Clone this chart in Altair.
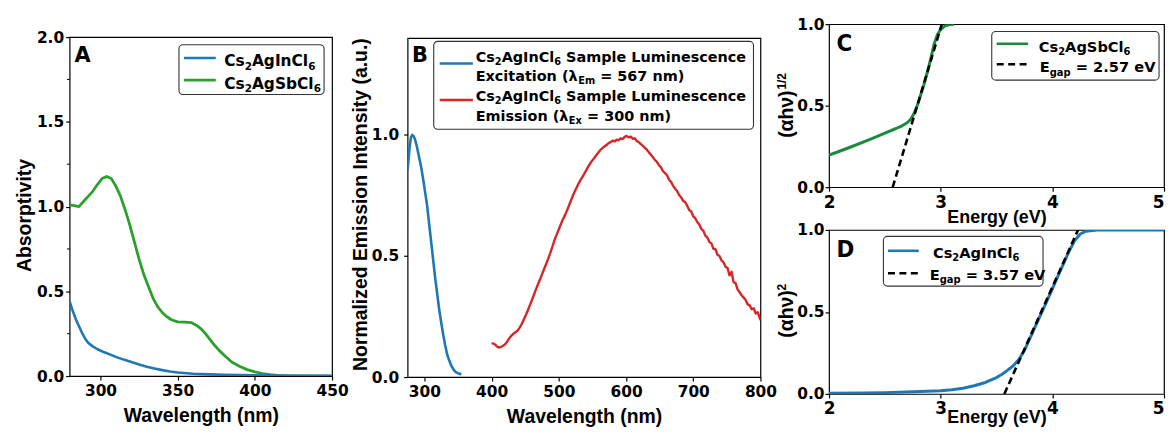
import altair as alt
import pandas as pd

# ---------------- data ----------------
# Panel A: absorptivity vs wavelength (nm)
a_in = [(280, 0.44), (282, 0.385), (284, 0.335), (286, 0.295), (288, 0.255), (290, 0.222),
        (292, 0.196), (295, 0.175), (298, 0.158), (302, 0.142), (306, 0.128), (310, 0.113),
        (315, 0.097), (320, 0.083), (325, 0.068), (330, 0.055), (335, 0.044), (340, 0.035),
        (345, 0.027), (350, 0.021), (360, 0.014), (370, 0.010), (380, 0.007), (400, 0.004),
        (425, 0.002), (450, 0.001)]
a_sb = [(280, 1.01), (283, 1.005), (286, 1.0), (289, 1.03), (292, 1.06), (295, 1.09),
        (298, 1.13), (301, 1.165), (304, 1.178), (307, 1.165), (310, 1.12), (313, 1.06),
        (316, 0.98), (319, 0.89), (322, 0.79), (325, 0.69), (328, 0.60), (331, 0.53),
        (334, 0.46), (337, 0.41), (340, 0.375), (343, 0.35), (346, 0.332), (350, 0.32),
        (355, 0.318), (359, 0.315), (362, 0.30), (365, 0.28), (368, 0.25), (371, 0.215),
        (374, 0.18), (377, 0.15), (381, 0.115), (385, 0.083), (390, 0.058), (395, 0.038),
        (400, 0.025), (405, 0.015), (410, 0.008), (415, 0.004), (420, 0.002), (430, 0.001),
        (450, 0.0)]
# Panel B: normalized luminescence
b_exc = [(275, 0.856), (278, 0.95), (280, 0.99), (282, 1.0), (284, 0.995), (286, 0.982),
         (289, 0.95), (292, 0.91), (295, 0.87), (298, 0.82), (301, 0.765), (304, 0.71),
         (307, 0.635), (310, 0.56), (313, 0.485), (316, 0.41), (319, 0.345), (322, 0.28),
         (325, 0.225), (328, 0.175), (331, 0.13), (334, 0.092), (337, 0.068), (340, 0.047),
         (344, 0.028), (348, 0.018), (352, 0.013), (355, 0.012)]
b_em = [(400, 0.140), (403, 0.138), (406, 0.132), (409, 0.124), (412, 0.122), (415, 0.126),
        (418, 0.131), (421, 0.138), (424, 0.150), (427, 0.163), (430, 0.172), (433, 0.180),
        (436, 0.186), (439, 0.193), (442, 0.205), (445, 0.220), (448, 0.238), (451, 0.256),
        (454, 0.276), (457, 0.297), (460, 0.318), (463, 0.340), (466, 0.362), (469, 0.383),
        (472, 0.403), (475, 0.424), (478, 0.445), (481, 0.466), (484, 0.487), (487, 0.510),
        (490, 0.535), (493, 0.560), (496, 0.583), (499, 0.603), (502, 0.624), (505, 0.644),
        (508, 0.662), (511, 0.680), (514, 0.700), (517, 0.722), (520, 0.743), (523, 0.762),
        (526, 0.780), (529, 0.797), (532, 0.812), (535, 0.826), (538, 0.840), (541, 0.855),
        (544, 0.870), (547, 0.884), (550, 0.895), (553, 0.906), (556, 0.917), (559, 0.928),
        (562, 0.938), (565, 0.946), (568, 0.953), (571, 0.958), (574, 0.966), (577, 0.970),
        (580, 0.976), (583, 0.973), (586, 0.980), (589, 0.978), (592, 0.986), (595, 0.983),
        (598, 0.992), (601, 0.996), (604, 0.990), (607, 0.993), (610, 0.984), (613, 0.986),
        (616, 0.975), (619, 0.970), (622, 0.962), (625, 0.955), (628, 0.947), (631, 0.939),
        (634, 0.928), (637, 0.918), (640, 0.908), (643, 0.897), (646, 0.888), (649, 0.875),
        (652, 0.866), (655, 0.850), (658, 0.842), (661, 0.834), (664, 0.815), (667, 0.806),
        (670, 0.790), (673, 0.778), (676, 0.768), (679, 0.752), (682, 0.742), (685, 0.728),
        (688, 0.722), (691, 0.708), (694, 0.690), (697, 0.684), (700, 0.664), (703, 0.656),
        (706, 0.640), (709, 0.630), (712, 0.612), (715, 0.604), (718, 0.584), (721, 0.576),
        (724, 0.558), (727, 0.552), (730, 0.530), (733, 0.528), (736, 0.505), (739, 0.500),
        (742, 0.482), (745, 0.474), (748, 0.455), (751, 0.450), (754, 0.420), (757, 0.435),
        (760, 0.392), (763, 0.388), (766, 0.362), (769, 0.350), (772, 0.338), (775, 0.328),
        (778, 0.318), (781, 0.300), (784, 0.296), (787, 0.280), (790, 0.284), (793, 0.262),
        (796, 0.268), (800, 0.235)]
# Panel C / D: Tauc plots vs energy (eV)
c_sb = [(2.0, 0.197), (2.1, 0.222), (2.2, 0.248), (2.3, 0.275), (2.4, 0.303), (2.5, 0.332),
        (2.6, 0.36), (2.65, 0.375), (2.7, 0.395), (2.73, 0.415), (2.76, 0.45), (2.79, 0.50),
        (2.82, 0.565), (2.85, 0.63), (2.88, 0.705), (2.91, 0.785), (2.94, 0.875), (2.97, 0.935),
        (3.0, 0.968), (3.04, 0.99), (3.08, 0.998), (3.12, 1.0)]
c_fit = [(2.57, 0.0), (3.01, 1.0)]
d_in = [(2.0, 0.004), (2.3, 0.006), (2.5, 0.008), (2.75, 0.013), (3.0, 0.02), (3.1, 0.026),
        (3.2, 0.035), (3.3, 0.05), (3.4, 0.07), (3.5, 0.1), (3.55, 0.12), (3.6, 0.145),
        (3.65, 0.172), (3.7, 0.21), (3.75, 0.265), (3.8, 0.34), (3.85, 0.415), (3.9, 0.49),
        (3.95, 0.565), (4.0, 0.64), (4.05, 0.718), (4.1, 0.795), (4.15, 0.87), (4.2, 0.935),
        (4.25, 0.975), (4.3, 0.992), (4.4, 0.999), (4.6, 1.0), (5.0, 1.0)]
d_fit = [(3.57, 0.0), (4.23, 1.0)]

a_xticks = [300, 350, 400, 450]
a_yticks = [0, 0.5, 1.0, 1.5, 2.0]
a_yminor = [0.25, 0.75, 1.25, 1.75]
b_xticks = [300, 400, 500, 600, 700, 800]
b_yticks = [0, 0.5, 1.0]
cd_xticks = [2, 3, 4, 5]
cd_yticks = [0, 0.5, 1.0]

# ---------------- styling ----------------
BLUE = '#1f77b4'
GREEN_A = '#2ca02c'
GREEN_C = '#1b8a3c'
RED = '#d62728'
LEG_FONT = 'DejaVu Sans'
TITLE_FONT = 'Liberation Sans'
CD_W = 337

ONE = pd.DataFrame({'k': [0]})

# DejaVu Sans Bold advance widths (em units) for placing subscripts
DVB = {' ': 0.348, '(': 0.457, ')': 0.457, '=': 0.838, '.': 0.381, '/': 0.365,
       'A': 0.774, 'C': 0.734, 'E': 0.683, 'I': 0.372, 'L': 0.637, 'S': 0.720, 'V': 0.774,
       'a': 0.675, 'b': 0.716, 'c': 0.593, 'e': 0.678, 'g': 0.716, 'i': 0.343, 'l': 0.343,
       'm': 1.042, 'n': 0.712, 'o': 0.687, 'p': 0.716, 's': 0.595, 't': 0.478, 'u': 0.712,
       'x': 0.663, '\u03bb': 0.66}
for d in '0123456789':
    DVB[d] = 0.696


def tw(s):
    return sum(DVB.get(ch, 0.65) for ch in s)


def series(points, x, y, color, width=2.5, dash=None):
    df = pd.DataFrame(points, columns=['x', 'y'])
    kw = dict(color=color, strokeWidth=width, clip=True, strokeJoin='round')
    if dash:
        kw['strokeDash'] = dash
    return alt.Chart(df).mark_line(**kw).encode(x=x, y=y)


def text_at(x, y, s, size, font=LEG_FONT, angle=0, align='left', baseline='alphabetic'):
    return alt.Chart(ONE).mark_text(text=s, font=font, fontSize=size, fontWeight='bold',
                                    align=align, baseline=baseline, angle=angle,
                                    color='black').encode(x=alt.value(x), y=alt.value(y))


def rich(x0, y0, parts, size, sub_ratio=0.68, sub_dy=3.2):
    out = []
    x = x0
    for s, is_sub in parts:
        fs = size * sub_ratio if is_sub else size
        lead = len(s) - len(s.lstrip(' '))
        x += tw(' ' * lead) * fs
        body = s.strip(' ')
        out.append(text_at(x, y0 + (sub_dy if is_sub else 0), body, fs))
        x += tw(body) * fs
    return out


def box(x1, y1, x2, y2):
    return alt.Chart(ONE).mark_rect(fill='white', stroke='#333333', strokeWidth=1.1,
                                    cornerRadius=4).encode(
        x=alt.value(x1), x2=alt.value(x2), y=alt.value(y1), y2=alt.value(y2))


def sample(x1, x2, y, color, dash=None):
    kw = dict(color=color, strokeWidth=2.6)
    if dash:
        kw['strokeDash'] = dash
    return alt.Chart(ONE).mark_rule(**kw).encode(x=alt.value(x1), x2=alt.value(x2), y=alt.value(y))


def anchor(x1, y1, x2, y2):
    # invisible rule that fixes the panel's layout bounds
    return alt.Chart(ONE).mark_rule(opacity=0, strokeWidth=1).encode(
        x=alt.value(x1), x2=alt.value(x2), y=alt.value(y1), y2=alt.value(y2))


def letter(x, y, s, font='DejaVu Sans', size=21):
    return alt.Chart(ONE).mark_text(text=s, font=font, fontSize=size, fontWeight='bold',
                                    align='left', baseline='alphabetic', color='black').encode(
        x=alt.value(x), y=alt.value(y))


def spacer(width):
    return alt.Chart(ONE).mark_point(opacity=0).encode(
        x=alt.value(1), y=alt.value(0.5)).properties(
        width=width, height=1, view=alt.ViewBackground(strokeOpacity=0))


# ---------------- panel A ----------------
xA = alt.X('x:Q', scale=alt.Scale(domain=[280, 450], nice=False, zero=False),
           axis=alt.Axis(values=a_xticks, format='d', title='Wavelength (nm)',
                         labelPadding=3.5, titlePadding=8))
yA = alt.Y('y:Q', scale=alt.Scale(domain=[0, 2], nice=False),
           axis=alt.Axis(values=a_yticks, format='.1f', title='Absorptivity',
                         labelPadding=2, titlePadding=2, titleY=179))
minorA = alt.Chart(pd.DataFrame({'y': a_yminor})).mark_rule(color='black', strokeWidth=1.1).encode(
    y=yA, x=alt.value(-2.5), x2=alt.value(0))
cs_in = [('Cs', 0), ('2', 1), ('AgInCl', 0), ('6', 1)]
cs_sb = [('Cs', 0), ('2', 1), ('AgSbCl', 0), ('6', 1)]
layersA = [series(a_sb, xA, yA, GREEN_A, 2.8), series(a_in, xA, yA, BLUE, 2.6), minorA,
           box(110, 7.7, 256, 57.7), sample(115, 147, 21, BLUE), sample(115, 147, 43.3, GREEN_A)]
layersA += rich(155.5, 29.5, cs_in, 15.5)
layersA += rich(155.5, 52, cs_sb, 15.5)
layersA += [letter(5, 25, 'A'), anchor(-55, 100, 285, 100)]
A = alt.layer(*layersA).properties(width=264, height=341)

# ---------------- panel B ----------------
xB = alt.X('x:Q', scale=alt.Scale(domain=[275, 800], nice=False, zero=False),
           axis=alt.Axis(values=b_xticks, format='d', title='Wavelength (nm)',
                         labelPadding=3.5, titlePadding=8))
yB = alt.Y('y:Q', scale=alt.Scale(domain=[0, 1.4], nice=False),
           axis=alt.Axis(values=b_yticks, format='.1f', title='Normalized Emission Intensity (a.u.)',
                         labelPadding=5, titlePadding=0.5, titleY=167))
layersB = [series(b_exc, xB, yB, BLUE, 2.6), series(b_em, xB, yB, RED, 2.4),
           box(26.3, 3.3, 348, 91.7), sample(32.3, 65.7, 25.5, BLUE), sample(32.3, 65.7, 62.3, RED)]
layersB += rich(68.5, 24, cs_in + [(' Sample Luminescence', 0)], 14.5)
layersB += rich(68.5, 43, [('Excitation (\u03bb', 0), ('Em', 1), (' = 567 nm)', 0)], 14.5)
layersB += rich(68.5, 63.5, cs_in + [(' Sample Luminescence', 0)], 14.5)
layersB += rich(68.5, 83, [('Emission (\u03bb', 0), ('Ex', 1), (' = 300 nm)', 0)], 14.5)
layersB += [letter(4.5, 24, 'B'), anchor(-57, 100, 372, 100)]
B = alt.layer(*layersB).properties(width=355, height=341)

# ---------------- panels C and D ----------------
LAST_LABEL_RIGHT = {'condition': {'test': 'datum.value == 5', 'value': 'right'}, 'value': 'center'}


def tauc_axes(title_pad):
    x = alt.X('x:Q', scale=alt.Scale(domain=[2, 5], nice=False, zero=False),
              axis=alt.Axis(values=cd_xticks, format='d', title='Energy (eV)', labelFontSize=17,
                            labelPadding=3, titlePadding=title_pad, titleFontSize=18,
                            labelAlign=LAST_LABEL_RIGHT))
    y = alt.Y('y:Q', scale=alt.Scale(domain=[0, 1], nice=False),
              axis=alt.Axis(values=cd_yticks, format='.1f', title=None, labelPadding=1))
    return x, y


xC, yC = tauc_axes(-1.5)
layersC = [series(c_sb, xC, yC, GREEN_C, 3.0), series(c_fit, xC, yC, 'black', 2.6, [7, 4]),
           box(163.7, 7.3, 332, 56.3), sample(168.7, 200.3, 19.7, GREEN_C),
           sample(168.7, 200.3, 40.3, 'black', [7, 4.5])]
layersC += rich(211, 27.5, cs_sb, 14.7)
layersC += rich(212, 48.5, [('E', 0), ('gap', 1), (' = 2.57 eV', 0)], 14.7, sub_dy=3.6)
layersC += [text_at(-42, 90.5, '(\u03b1h\u03bd)', 19.5, font=TITLE_FONT, angle=270,
                    align='center', baseline='middle'),
            text_at(-47, 57.5, '1/2', 12, font=TITLE_FONT, angle=270,
                    align='center', baseline='middle'),
            letter(7.5, 26.5, 'C', font='DejaVu Sans Condensed, DejaVu Sans', size=24),
            anchor(-54, -9, 0, -9)]
C = alt.layer(*layersC).properties(width=CD_W, height=164)

xD, yD = tauc_axes(-8)
layersD = [series(d_in, xD, yD, BLUE, 3.0), series(d_fit, xD, yD, 'black', 2.6, [7, 4]),
           box(54.7, 6.5, 215.3, 56.5), sample(59.3, 90.3, 21, BLUE),
           sample(59.3, 90.3, 43.5, 'black', [7, 4.5])]
layersD += rich(104.5, 28.5, cs_in, 14.7)
layersD += rich(101.3, 50, [('E', 0), ('gap', 1), (' = 3.57 eV', 0)], 14.7, sub_dy=3.6)
layersD += [text_at(-42, 84.5, '(\u03b1h\u03bd)', 19.5, font=TITLE_FONT, angle=270,
                    align='center', baseline='middle'),
            text_at(-47.5, 57.5, '2', 12, font=TITLE_FONT, angle=270,
                    align='center', baseline='middle'),
            letter(7.5, 27, 'D', font='DejaVu Sans Condensed, DejaVu Sans', size=24),
            anchor(-54, 0, 0, 0)]
D = alt.layer(*layersD).properties(width=CD_W, height=165)

# A and B sit lower than C: a 1px invisible spacer row above each of them
colA = alt.vconcat(spacer(264), A, spacing=12, bounds='flush')
colB = alt.vconcat(spacer(355), B, spacing=13, bounds='flush')
colCD = alt.vconcat(C, D, spacing=43, bounds='flush')

chart = alt.hconcat(colA, colB, colCD, spacing=-4).properties(
    padding={'left': 5, 'top': 5, 'right': 0, 'bottom': 0}
).configure_view(
    stroke='black', strokeWidth=1.2
).configure_axis(
    domain=False, grid=False, tickSize=4, tickWidth=1.2, tickColor='black',
    labelFont=LEG_FONT, labelFontWeight='bold', labelFontSize=15.5, labelColor='black',
    titleFont=TITLE_FONT, titleFontWeight='bold', titleFontSize=19.5, titleColor='black',
    labelFlush=False, labelOverlap=False
)

chart.save('out.html', embed_options={'renderer': 'svg', 'actions': False})
